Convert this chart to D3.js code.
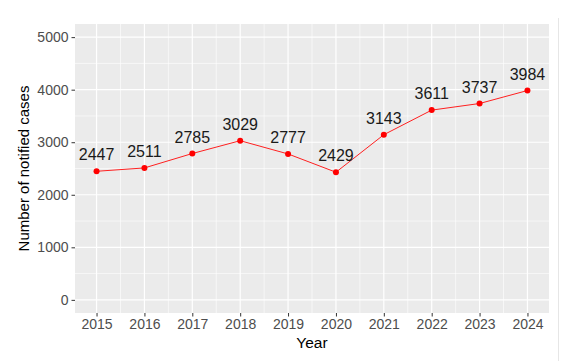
<!DOCTYPE html>
<html>
<head>
<meta charset="utf-8">
<script src="https://cdn.jsdelivr.net/npm/d3@7"></script>
<style>
  body { margin: 0; background: #fff; }
  text { font-family: "Liberation Sans", Arial, sans-serif; }
</style>
</head>
<body>
<svg width="570" height="361"></svg>
<script>
var years = [2015, 2016, 2017, 2018, 2019, 2020, 2021, 2022, 2023, 2024];
var cases = [2447, 2511, 2785, 3029, 2777, 2429, 3143, 3611, 3737, 3984];
var yTicks = [0, 1000, 2000, 3000, 4000, 5000];

var svg = d3.select("svg");
var panel = {left: 75, right: 549, top: 24, bottom: 313};

var x = d3.scaleLinear().domain([2014.55, 2024.45]).range([panel.left, panel.right]);
var y = d3.scaleLinear().domain([-250, 5250]).range([panel.bottom, panel.top]);

// faint border line on the right
svg.append("line")
  .attr("x1", 558.5).attr("x2", 558.5).attr("y1", 18).attr("y2", 361)
  .attr("stroke", "#e6e6e6").attr("stroke-width", 1);

svg.append("rect")
  .attr("x", panel.left).attr("y", panel.top)
  .attr("width", panel.right - panel.left).attr("height", panel.bottom - panel.top)
  .attr("fill", "#ebebeb");

var grid = svg.append("g");
// minor grid
var yMinor = yTicks.slice(0, -1).map(d => d + 500);
grid.selectAll(".ymin").data(yMinor).enter().append("line")
  .attr("x1", panel.left).attr("x2", panel.right)
  .attr("y1", d => y(d)).attr("y2", d => y(d))
  .attr("stroke", "#fff").attr("stroke-width", 0.6);
var xMinor = years.slice(0, -1).map(d => d + 0.5);
grid.selectAll(".xmin").data(xMinor).enter().append("line")
  .attr("y1", panel.top).attr("y2", panel.bottom)
  .attr("x1", d => x(d)).attr("x2", d => x(d))
  .attr("stroke", "#fff").attr("stroke-width", 0.6);
// major grid
grid.selectAll(".ymaj").data(yTicks).enter().append("line")
  .attr("x1", panel.left).attr("x2", panel.right)
  .attr("y1", d => y(d)).attr("y2", d => y(d))
  .attr("stroke", "#fff").attr("stroke-width", 1.2);
grid.selectAll(".xmaj").data(years).enter().append("line")
  .attr("y1", panel.top).attr("y2", panel.bottom)
  .attr("x1", d => x(d)).attr("x2", d => x(d))
  .attr("stroke", "#fff").attr("stroke-width", 1.2);

// axes
var xAxis = d3.axisBottom(x).tickValues(years).tickFormat(d3.format("d")).tickSize(3.5).tickPadding(3);
var yAxis = d3.axisLeft(y).tickValues(yTicks).tickFormat(d3.format("d")).tickSize(3.5).tickPadding(3);

var gx = svg.append("g").attr("transform", "translate(0," + panel.bottom + ")").call(xAxis);
var gy = svg.append("g").attr("transform", "translate(" + panel.left + ",0)").call(yAxis);
[gx, gy].forEach(function(g) {
  g.select(".domain").remove();
  g.selectAll(".tick line").attr("stroke", "#333").attr("stroke-width", 1);
  g.selectAll(".tick text").attr("fill", "#4d4d4d").attr("font-size", 14);
});

// line + points
var line = d3.line().x((d, i) => x(years[i])).y(d => y(d));
svg.append("path").datum(cases)
  .attr("d", line)
  .attr("fill", "none")
  .attr("stroke", "#ff2020")
  .attr("stroke-width", 1);

svg.selectAll(".pt").data(cases).enter().append("circle")
  .attr("cx", (d, i) => x(years[i]))
  .attr("cy", d => y(d))
  .attr("r", 3)
  .attr("fill", "#ff0000");

svg.selectAll(".lbl").data(cases).enter().append("text")
  .attr("x", (d, i) => x(years[i]))
  .attr("y", d => y(d) - 11)
  .attr("text-anchor", "middle")
  .attr("font-size", 16)
  .attr("fill", "#1a1a1a")
  .text(d => d);

// titles
svg.append("text")
  .attr("x", (panel.left + panel.right) / 2).attr("y", 348)
  .attr("text-anchor", "middle").attr("font-size", 15.5).attr("fill", "#000")
  .text("Year");
svg.append("text")
  .attr("transform", "translate(29," + (panel.top + panel.bottom) / 2 + ") rotate(-90)")
  .attr("text-anchor", "middle").attr("font-size", 15).attr("fill", "#000")
  .text("Number of notified cases");
</script>
</body>
</html>
